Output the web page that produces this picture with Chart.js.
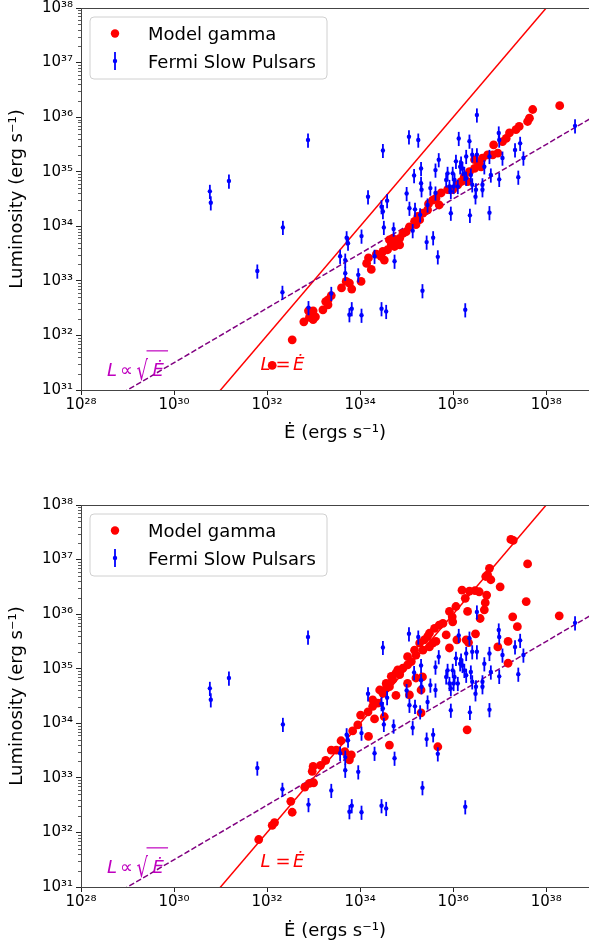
<!DOCTYPE html>
<html><head><meta charset="utf-8">
<script src="https://cdn.jsdelivr.net/npm/chart.js@4.4.1/dist/chart.umd.min.js"></script>
<style>
html,body{margin:0;padding:0;background:#fff;width:589px;height:945px;overflow:hidden}
.panel{position:absolute;left:0;width:589px}
#p1{top:0;height:470px}
#p2{top:470px;height:475px}
canvas{display:block}
</style></head><body>
<div class="panel" id="p1"><canvas id="c1" width="589" height="470"></canvas></div>
<div class="panel" id="p2"><canvas id="c2" width="589" height="475"></canvas></div>
<script>
// ---------- axis setup (log10 exponents) ----------
const xTickExps = [28, 30, 32, 34, 36, 38];
const yTickExps = [31, 32, 33, 34, 35, 36, 37, 38];
const xLimExp = [28, 38.92];
const yLimExp = [31, 38];

// ---------- Fermi slow pulsars (log10 Edot, log10 L) ----------
const fermiLogEdot = [30.77,30.79,31.18,32.34,31.79,32.33,32.88,32.89,33.38,33.57,33.68,33.68,33.71,33.74,33.96,34.03,33.77,33.82,34.03,34.17,34.46,34.58,34.49,34.51,34.72,34.31,34.74,34.46,34.56,35.00,35.06,35.18,35.16,35.13,35.05,35.25,35.31,35.31,35.32,35.29,35.43,35.57,35.67,35.34,35.45,35.51,35.62,35.62,35.69,35.88,35.85,35.92,35.95,35.99,36.03,36.01,36.10,35.95,36.06,36.12,36.17,36.15,36.20,36.24,36.28,36.28,36.35,36.36,36.38,36.41,36.41,36.49,36.48,36.51,36.51,36.63,36.63,36.67,36.78,36.81,36.78,36.98,36.99,36.99,37.06,36.26,37.33,37.40,37.44,37.51,38.62,34.49];
const fermiLogLum = [34.64,34.43,34.83,33.98,33.18,32.79,35.58,32.51,32.77,33.45,33.38,33.14,33.79,33.69,33.11,33.82,32.38,32.49,32.37,34.54,34.36,34.47,34.27,33.98,33.95,33.45,33.36,32.49,32.44,34.60,34.33,34.31,34.93,33.92,35.64,35.58,35.06,34.79,34.67,34.21,33.71,33.79,33.44,32.82,34.39,34.70,34.61,35.03,35.22,34.97,34.85,34.73,34.64,34.97,34.85,34.73,34.73,34.24,35.19,35.61,35.16,35.09,35.06,34.97,34.88,35.28,35.56,34.20,34.94,34.76,35.31,34.67,34.54,35.31,36.04,34.76,34.67,35.09,35.28,34.94,34.25,35.71,35.58,34.86,35.25,32.47,35.40,34.90,35.52,35.25,35.84,35.39];
const fermiErrUpDex = 0.12;
const fermiErrDownDex = 0.14;

// ---------- Model gamma, top panel ----------
const modelTopLogEdot = [32.11,32.54,32.79,32.91,32.99,33.04,32.99,32.89,33.20,33.26,33.31,33.38,33.31,33.60,33.70,33.77,33.82,34.02,34.24,34.14,34.18,34.35,34.45,34.52,34.49,34.59,34.67,34.74,34.77,34.63,34.70,34.85,34.92,34.99,34.85,35.06,35.20,35.17,35.28,35.35,35.24,35.45,35.47,35.56,35.63,35.70,35.74,35.88,35.99,36.10,36.17,36.24,36.31,36.35,36.46,36.46,36.56,36.60,36.63,36.74,36.85,36.96,36.87,37.06,37.14,37.21,37.35,37.42,37.60,37.64,37.71,38.29];
const modelTopLogLum = [31.45,31.92,32.25,32.33,32.29,32.34,32.45,32.45,32.47,32.62,32.65,32.73,32.56,32.87,32.99,32.96,32.85,32.99,33.21,33.32,33.42,33.49,33.45,33.38,33.54,33.57,33.66,33.63,33.69,33.75,33.78,33.78,33.87,33.90,33.66,33.99,34.03,34.09,34.12,34.24,34.18,34.30,34.41,34.48,34.51,34.39,34.61,34.67,34.67,34.76,34.82,34.91,34.82,35.00,35.06,35.22,35.16,35.09,35.25,35.31,35.31,35.34,35.49,35.55,35.61,35.71,35.77,35.83,35.92,35.98,36.14,36.21];

// ---------- Model gamma, bottom panel ----------
const modelBottomLogEdot = [31.82,32.11,32.16,32.51,32.54,32.81,32.91,33.00,32.99,32.97,33.15,33.26,33.38,33.49,33.59,33.67,33.77,33.81,33.84,33.95,34.01,34.17,34.18,34.27,34.31,34.38,34.52,34.49,34.56,34.63,34.77,34.70,34.77,34.92,35.02,35.10,35.20,35.06,34.63,35.67,36.30,35.31,34.85,35.02,35.17,35.28,35.35,35.38,35.45,35.49,35.56,35.49,35.60,35.70,35.78,35.63,35.85,35.92,35.92,35.98,35.99,36.06,36.08,36.19,36.26,36.28,36.31,36.35,36.47,36.48,36.33,36.56,36.58,36.67,36.69,36.72,36.70,36.74,36.78,36.81,37.01,36.96,37.18,37.18,37.28,37.38,37.57,37.29,37.24,37.60,38.28,34.42,34.27,34.56,34.67,34.81,35.20,35.31,35.02,35.34];
const modelBottomLogLum = [31.87,32.13,32.18,32.57,32.37,32.83,32.90,32.91,33.21,33.12,33.23,33.32,33.51,33.51,33.68,33.48,33.33,33.42,33.86,33.97,34.15,34.21,33.76,34.31,34.08,34.37,34.12,34.55,34.64,34.67,34.51,34.80,34.92,35.01,35.07,35.13,35.25,34.52,33.60,33.57,33.88,34.19,34.89,35.22,35.34,35.47,35.34,35.53,35.59,35.65,35.47,35.40,35.74,35.80,35.83,35.50,35.62,35.38,36.05,35.95,35.86,36.14,35.53,36.44,36.29,35.53,36.05,36.42,36.43,35.64,35.48,36.41,35.92,36.08,36.21,36.35,36.69,36.72,36.84,36.63,36.50,35.40,35.50,35.10,35.95,35.77,36.23,37.35,37.37,36.92,35.97,34.61,34.43,34.73,34.86,34.98,34.83,34.61,34.73,34.85];

// ---------- reference lines ----------
const refLineEdot = [1e28, 1e39];
const refEqualLum = [1e28, 1e39];          // L = Edot
const refSqrtLum = [3.1623e30, 1e36];      // L ∝ sqrt(Edot)

// annotation anchors (log10 Edot, log10 L)
const sqrtLabelPos = [28.56, 31.25];
const equalLabelPos = [31.86, 31.37];

Chart.defaults.font.family = "'DejaVu Sans', 'Liberation Sans', sans-serif";
Chart.defaults.color = '#000';

const SUPS = {'0':'⁰','1':'¹','2':'²','3':'³','4':'⁴','5':'⁵','6':'⁶','7':'⁷','8':'⁸','9':'⁹','-':'⁻'};
function supText(n){ return String(n).split('').map(c => SUPS[c]).join(''); }
function decadeLabel(v){ return '10' + supText(Math.round(Math.log10(v))); }

const FONT = '"DejaVu Sans"';

function drawSqrtLabel(ctx, x, y){
  const col = '#bf00bf';
  ctx.fillStyle = col; ctx.strokeStyle = col;
  ctx.textAlign = 'left'; ctx.textBaseline = 'alphabetic';
  ctx.font = 'italic 18px ' + FONT; ctx.fillText('L', x, y);
  ctx.font = '18px ' + FONT; ctx.fillText('∝', x + 13, y);
  ctx.save(); ctx.translate(x + 29.5, y + 4); ctx.scale(1, 1.5);
  ctx.font = '18px ' + FONT; ctx.fillText('√', 0, 0);
  ctx.restore();
  ctx.font = '18px ' + FONT;
  const w = ctx.measureText('√').width;
  ctx.lineWidth = 1.2;
  ctx.beginPath(); ctx.moveTo(x + 29.5 + w - 1.5, y - 25.5); ctx.lineTo(x + 61, y - 25.5); ctx.stroke();
  ctx.font = 'italic 18px ' + FONT; ctx.fillText('Ė', x + 45.5, y);
}
function drawEqualLabel(ctx, x, y){
  ctx.fillStyle = '#ff0000';
  ctx.textAlign = 'left'; ctx.textBaseline = 'alphabetic';
  ctx.font = 'italic 18px ' + FONT; ctx.fillText('L', x, y);
  ctx.font = '18px ' + FONT; ctx.fillText('=', x + 15, y);
  ctx.font = 'italic 18px ' + FONT; ctx.fillText('Ė', x + 32.5, y);
}

const decor = {
  id: 'decor',
  beforeDatasetDraw(chart, args){
    const ds = chart.data.datasets[args.index];
    if (!ds.errorBars) return;
    const ctx = chart.ctx, xs = chart.scales.x, ys = chart.scales.y, ca = chart.chartArea;
    ctx.save();
    ctx.beginPath(); ctx.rect(ca.left, ca.top, ca.right - ca.left, ca.bottom - ca.top); ctx.clip();
    ctx.strokeStyle = ds.backgroundColor; ctx.lineWidth = 1.8;
    ds.data.forEach(p => {
      const x = xs.getPixelForValue(p.x);
      ctx.beginPath();
      ctx.moveTo(x, ys.getPixelForValue(p.yMin));
      ctx.lineTo(x, ys.getPixelForValue(p.yMax));
      ctx.stroke();
    });
    ctx.restore();
  },
  afterDraw(chart){
    const ctx = chart.ctx, ca = chart.chartArea, xs = chart.scales.x, ys = chart.scales.y;
    ctx.save();
    // top spine
    ctx.strokeStyle = '#444'; ctx.lineWidth = 1;
    const ty = Math.round(ca.top) + 0.5;
    ctx.beginPath(); ctx.moveTo(ca.left, ty); ctx.lineTo(ca.right, ty); ctx.stroke();
    // y minor ticks
    ctx.strokeStyle = '#333'; ctx.lineWidth = 0.8;
    for (let d = yLimExp[0]; d < yLimExp[1]; d++) {
      for (let k = 2; k <= 9; k++) {
        const y = Math.round(ys.getPixelForValue(k * Math.pow(10, d))) + 0.5;
        ctx.beginPath(); ctx.moveTo(ca.left - 3, y); ctx.lineTo(ca.left, y); ctx.stroke();
      }
    }
    // annotations
    drawSqrtLabel(ctx, xs.getPixelForValue(Math.pow(10, sqrtLabelPos[0])), ys.getPixelForValue(Math.pow(10, sqrtLabelPos[1])));
    drawEqualLabel(ctx, xs.getPixelForValue(Math.pow(10, equalLabelPos[0])), ys.getPixelForValue(Math.pow(10, equalLabelPos[1])));
    // legend
    const ds = chart.data.datasets;
    const lx = ca.left + 9, ly = ca.top + 9, lw = 237, lh = 62, r = 4;
    ctx.beginPath();
    ctx.moveTo(lx + r, ly); ctx.lineTo(lx + lw - r, ly); ctx.arcTo(lx + lw, ly, lx + lw, ly + r, r);
    ctx.lineTo(lx + lw, ly + lh - r); ctx.arcTo(lx + lw, ly + lh, lx + lw - r, ly + lh, r);
    ctx.lineTo(lx + r, ly + lh); ctx.arcTo(lx, ly + lh, lx, ly + lh - r, r);
    ctx.lineTo(lx, ly + r); ctx.arcTo(lx, ly, lx + r, ly, r); ctx.closePath();
    ctx.fillStyle = 'rgba(255,255,255,0.8)'; ctx.fill();
    ctx.strokeStyle = '#d0d0d0'; ctx.lineWidth = 1; ctx.stroke();
    const mx = ca.left + 34;
    // entry 1: model gamma
    ctx.fillStyle = ds[2].backgroundColor;
    ctx.beginPath(); ctx.arc(mx, ca.top + 25.5, 4.2, 0, Math.PI * 2); ctx.fill();
    // entry 2: fermi errorbar
    ctx.strokeStyle = ds[3].backgroundColor; ctx.lineWidth = 1.8;
    ctx.beginPath(); ctx.moveTo(mx, ca.top + 44); ctx.lineTo(mx, ca.top + 62); ctx.stroke();
    ctx.fillStyle = ds[3].backgroundColor;
    ctx.beginPath(); ctx.arc(mx, ca.top + 53, 2.2, 0, Math.PI * 2); ctx.fill();
    ctx.fillStyle = '#000'; ctx.font = '18px ' + FONT; ctx.textAlign = 'left'; ctx.textBaseline = 'alphabetic';
    ctx.fillText(ds[2].label, ca.left + 67, ca.top + 31.5);
    ctx.fillText(ds[3].label, ca.left + 67, ca.top + 59.8);
    ctx.restore();
  }
};

function makeChart(canvasId, modelE, modelL, padTop, xAxisHeight, xTitlePadBottom){
  const modelData = modelE.map((e, i) => ({x: Math.pow(10, e), y: Math.pow(10, modelL[i])}));
  const fermiData = fermiLogEdot.map((e, i) => ({
    x: Math.pow(10, e), y: Math.pow(10, fermiLogLum[i]),
    yMin: Math.pow(10, fermiLogLum[i] - fermiErrDownDex), yMax: Math.pow(10, fermiLogLum[i] + fermiErrUpDex)
  }));
  const eqData = refLineEdot.map((x, i) => ({x, y: refEqualLum[i]}));
  const sqData = refLineEdot.map((x, i) => ({x, y: refSqrtLum[i]}));
  return new Chart(document.getElementById(canvasId), {
    type: 'scatter',
    data: {datasets: [
      {label: 'L = Ė', data: eqData, showLine: true, borderColor: '#ff0000', borderWidth: 1.5, pointRadius: 0, order: 4},
      {label: 'L ∝ √Ė', data: sqData, showLine: true, borderColor: '#800080', borderDash: [5.6, 2.4], borderWidth: 1.5, pointRadius: 0, order: 3},
      {label: 'Model gamma', data: modelData, backgroundColor: '#ff0000', borderWidth: 0, pointRadius: 4.4, order: 2},
      {label: 'Fermi Slow Pulsars', data: fermiData, backgroundColor: '#0000ff', borderColor: '#0000ff', borderWidth: 0, pointRadius: 2.2, order: 1, errorBars: true}
    ]},
    options: {
      responsive: false, animation: false, events: [],
      layout: {autoPadding: false, padding: {top: padTop, left: 0, right: 0, bottom: 0}},
      plugins: {legend: {display: false}, tooltip: {enabled: false}},
      scales: {
        x: {
          type: 'logarithmic', position: 'bottom',
          min: Math.pow(10, xLimExp[0]), max: Math.pow(10, xLimExp[1]),
          afterBuildTicks: s => { s.ticks = xTickExps.map(e => ({value: Math.pow(10, e)})); },
          afterFit: s => { s.height = xAxisHeight; s.paddingLeft = 0; s.paddingRight = 0; },
          ticks: {callback: v => decadeLabel(v), autoSkip: false, maxRotation: 0, padding: 3, color: '#000', font: {size: 15, lineHeight: 1}},
          grid: {drawOnChartArea: false, drawTicks: true, tickLength: 5, color: '#222', lineWidth: 1},
          border: {display: true, color: '#444', width: 1},
          title: {display: true, text: 'Ė (ergs s⁻¹)', color: '#000', font: {size: 18}, padding: {top: 0, bottom: xTitlePadBottom}}
        },
        y: {
          type: 'logarithmic', position: 'left',
          min: Math.pow(10, yLimExp[0]), max: Math.pow(10, yLimExp[1]),
          afterBuildTicks: s => { s.ticks = yTickExps.map(e => ({value: Math.pow(10, e)})); },
          afterFit: s => { s.width = 81; s.paddingTop = 0; s.paddingBottom = 0; },
          ticks: {callback: v => decadeLabel(v), autoSkip: false, padding: 3, color: '#000', font: {size: 15, lineHeight: 1}},
          grid: {drawOnChartArea: false, drawTicks: true, tickLength: 5, color: '#222', lineWidth: 1},
          border: {display: true, color: '#444', width: 1},
          title: {display: true, text: 'Luminosity (erg s⁻¹)', color: '#000', font: {size: 18}, padding: {top: 7, bottom: 0}}
        }
      }
    },
    plugins: [decor]
  });
}

makeChart('c1', modelTopLogEdot, modelTopLogLum, 8, 80, 26);
makeChart('c2', modelBottomLogEdot, modelBottomLogLum, 35, 58, 3);
</script>
</body></html>
